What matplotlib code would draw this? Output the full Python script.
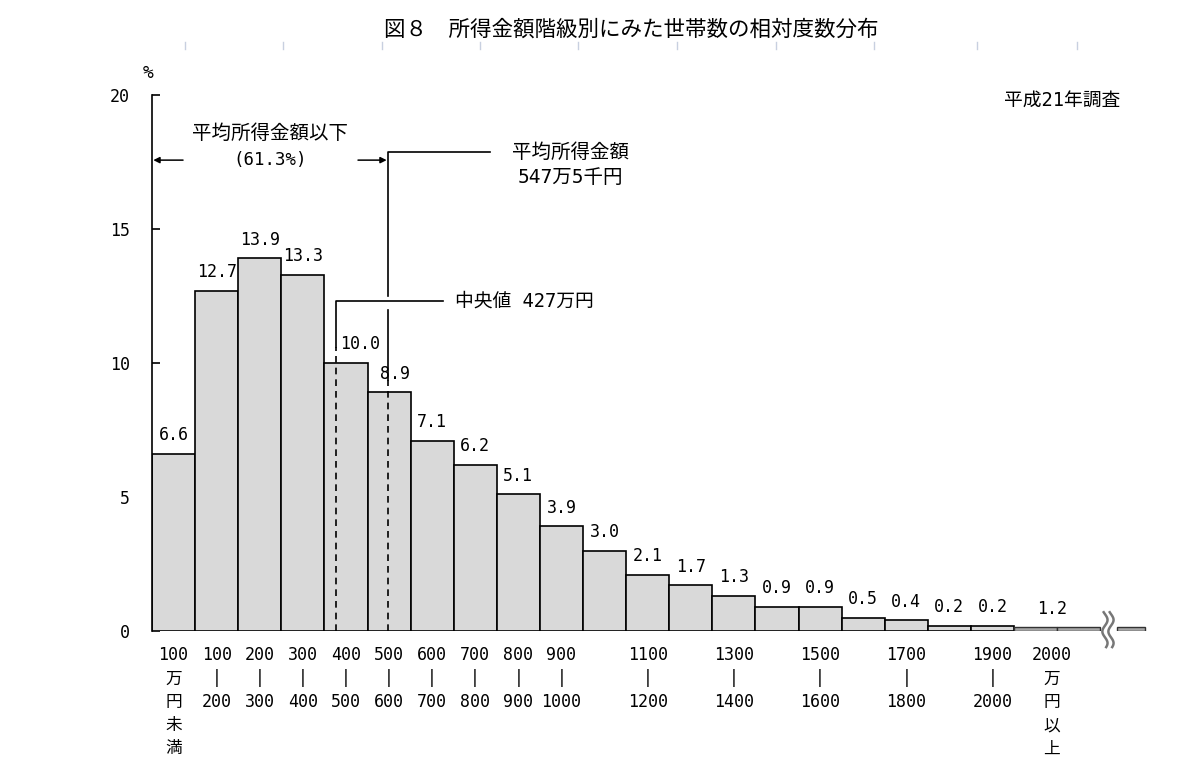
import numpy as np
import matplotlib.pyplot as plt
from matplotlib.lines import Line2D

plt.rcParams['font.family'] = ['DejaVu Sans Mono', 'Noto Sans CJK JP']

# 所得金額階級（万円）ごとの世帯数の相対度数（%）
bin_lows = [0, 100, 200, 300, 400, 500, 600, 700, 800, 900,
            1000, 1100, 1200, 1300, 1400, 1500, 1600, 1700, 1800, 1900]
shares = [6.6, 12.7, 13.9, 13.3, 10.0, 8.9, 7.1, 6.2, 5.1, 3.9,
          3.0, 2.1, 1.7, 1.3, 0.9, 0.9, 0.5, 0.4, 0.2, 0.2]
share_2000_over = 1.2
# x軸ラベル（階級の下限 -> 表示文字列）
class_labels = {0: "100\n万\n円\n未\n満", 100: "100\n|\n200", 200: "200\n|\n300",
                300: "300\n|\n400", 400: "400\n|\n500", 500: "500\n|\n600",
                600: "600\n|\n700", 700: "700\n|\n800", 800: "800\n|\n900",
                900: "900\n|\n1000", 1100: "1100\n|\n1200", 1300: "1300\n|\n1400",
                1500: "1500\n|\n1600", 1700: "1700\n|\n1800", 1900: "1900\n|\n2000"}
label_2000_over = "2000\n万\n円\n以\n上"
median_income = 427      # 万円
mean_income = 547.5      # 万円
below_mean_pct = 61.3

unit = 100.0
x = np.array(bin_lows) / unit

fig = plt.figure(figsize=(12, 7.78), dpi=100)
ax = fig.add_axes([152 / 1200, (778 - 631) / 778, (1160 - 152) / 1200, 536 / 778])
ax.set_xlim(0, 1008 / 43.1)
ax.set_ylim(0, 20)

ax.bar(x, shares, width=1.0, align='edge', color='#d9d9d9', edgecolor='black', linewidth=1.2, zorder=2)

# 2000万円以上（省略表示）
n = len(bin_lows)
flat_h = 0.14
ax.bar([n, n + 1], [flat_h, flat_h], width=1.0, align='edge', color='#a6a6a6',
       edgecolor='#333333', linewidth=1.0, zorder=2)
ax.bar([n + 2.39], [flat_h], width=0.65, align='edge', color='#a6a6a6',
       edgecolor='#333333', linewidth=1.0, zorder=2)
t = np.linspace(0, 1, 60)
for xc in (n + 2.11, n + 2.25):
    ax.plot(xc + 0.06 * np.sin(2 * np.pi * t * 1.5 + 0.5), -0.6 + 1.3 * t,
            color='#777777', lw=1.8, clip_on=False, zorder=3)

# 値ラベル
shift = {4: 0.33, 5: 0.14}
for i, v in enumerate(shares):
    ax.annotate(f"{v:.1f}", (x[i] + 0.5 + shift.get(i, 0), v), xytext=(0, 7),
                textcoords='offset points', ha='center', va='bottom', fontsize=12)
ax.annotate(f"{share_2000_over:.1f}", (n + 0.88, flat_h), xytext=(0, 7),
            textcoords='offset points', ha='center', va='bottom', fontsize=12)

# x軸ラベル（縦書き）
def stacked(xpos, text):
    for k, line in enumerate(text.split("\n")):
        ax.annotate(line, (xpos, 0), xytext=(0, -17.3 - 16.8 * k), textcoords='offset points',
                    ha='center', va='center', fontsize=12, annotation_clip=False)

for low, lab in class_labels.items():
    stacked(low / unit + 0.5, lab)
stacked(n + 0.88, label_2000_over)

# 中央値
xm = median_income / unit
ax.plot([xm, xm], [0, 10.6], color='black', lw=1.2, ls=(0, (4, 3)), zorder=3)
ax.plot([xm, xm, 6.75], [10.6, 12.32, 12.32], color='black', lw=1.2, zorder=3)
ax.text(7.03, 12.32, f"中央値 {median_income}万円", ha='left', va='center', fontsize=13.5)

# 平均
xa = mean_income / unit
ax.plot([xa, xa], [0, 9.37], color='black', lw=1.2, ls=(0, (4, 3)), zorder=3)
ax.plot([xa, xa], [9.37, 11.98], color='black', lw=1.2, zorder=3)
ax.plot([xa, xa, 7.84], [12.5, 17.87, 17.87], color='black', lw=1.2, zorder=3)
ax.text(9.7, 17.39, "平均所得金額\n547万5千円", ha='center', va='center', fontsize=14, linespacing=1.4)

ax.text(2.74, 18.58, "平均所得金額以下", ha='center', va='center', fontsize=14)
ax.text(2.74, 17.57, f"({below_mean_pct}%)", ha='center', va='center', fontsize=12.5)
arrow = dict(arrowstyle='-|>', lw=1.1, color='black', mutation_scale=9, shrinkA=0, shrinkB=0)
ax.annotate('', xy=(0.03, 17.57), xytext=(0.72, 17.57), arrowprops=arrow)
ax.annotate('', xy=(xa - 0.03, 17.57), xytext=(4.78, 17.57), arrowprops=arrow)

# 軸
for s in ('top', 'right', 'bottom'):
    ax.spines[s].set_visible(False)
ax.spines['left'].set_linewidth(1.2)
ax.spines['left'].set_bounds(0, 20)
ax.set_yticks([0, 5, 10, 15, 20])
ax.tick_params(axis='y', direction='in', length=6, width=1.2, pad=16, labelsize=12)
ax.set_xticks([])

fig.text(148 / 1200, 1 - 73 / 778, "%", ha='center', va='center', fontsize=13)
fig.text(1120 / 1200, 1 - 100 / 778, "平成21年調査", ha='right', va='center', fontsize=13.5)
fig.text(631 / 1200, 1 - 30 / 778, "図８　所得金額階級別にみた世帯数の相対度数分布",
         ha='center', va='center', fontsize=15.5, family=['Noto Sans CJK JP'])

for px in (185, 283, 382, 480, 578, 677, 776, 874, 977, 1077):
    fig.add_artist(Line2D([px / 1200] * 2, [1 - 42 / 778, 1 - 49 / 778], color='#c8d0e0', lw=1))

fig.savefig("out.png", dpi=100)
